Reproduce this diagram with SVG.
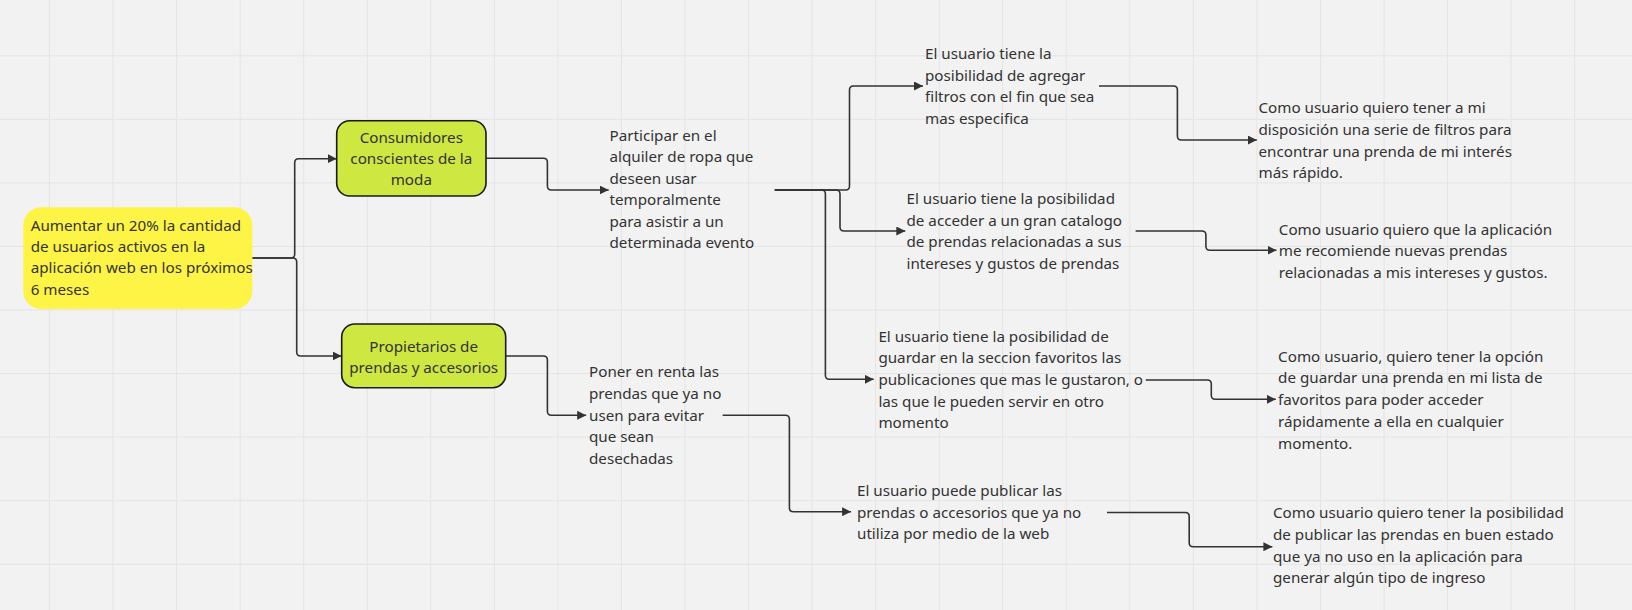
<svg xmlns="http://www.w3.org/2000/svg" width="1632" height="610" viewBox="0 0 1632 610">
<defs>
<style>
.t{font-family:"Noto Sans","Open Sans","DejaVu Sans",sans-serif;font-size:15.2px;fill:#333333}
.c{text-anchor:middle}
.g{stroke:#e4e4e4;stroke-width:1}
.ln{fill:none;stroke:#333333;stroke-width:1.6;marker-end:url(#ar)}
.nd{fill:#cee741;stroke:#1a1a1a;stroke-width:1.6}
</style>
<marker id="ar" viewBox="0 0 10 10" refX="10" refY="5" markerWidth="9" markerHeight="9" markerUnits="userSpaceOnUse" orient="auto">
<path d="M0,0 L10,5 L0,10 z" fill="#333333"/>
</marker>
<pattern id="grid" x="49" y="55.3" width="63.55" height="63.55" patternUnits="userSpaceOnUse">
<path d="M0.5,0 V63.55 M0,0.5 H63.55" class="g" fill="none"/>
</pattern>
</defs>
<rect width="1632" height="610" fill="#f2f2f2"/>
<rect width="1632" height="610" fill="url(#grid)"/>

<g id="connectors">
<path class="ln" d="M252.3,258 H290.7 Q294.7,258 294.7,254 V162.7 Q294.7,158.7 298.7,158.7 H336.7"/>
<path class="ln" d="M252.3,258 H292.7 Q296.7,258 296.7,262 V352 Q296.7,356 300.7,356 H341.7"/>
<path class="ln" d="M486,158.3 H543.4 Q547.4,158.3 547.4,162.3 V186 Q547.4,190 551.4,190 H608.7"/>
<path class="ln" d="M774.8,190 H845.5 Q849.5,190 849.5,186 V90 Q849.5,86 853.5,86 H923"/>
<path class="ln" d="M774.8,190 H836 Q840,190 840,194 V227 Q840,231 844,231 H905.3"/>
<path class="ln" d="M774.8,190 H821.4 Q825.4,190 825.4,194 V375.3 Q825.4,379.3 829.4,379.3 H873.7"/>
<path class="ln" d="M1099,86 H1173.4 Q1177.4,86 1177.4,90 V136 Q1177.4,140 1181.4,140 H1256.8"/>
<path class="ln" d="M1135.6,231 H1201.9 Q1205.9,231 1205.9,235 V246.3 Q1205.9,250.3 1209.9,250.3 H1276.5"/>
<path class="ln" d="M1145.8,380 H1207.3 Q1211.3,380 1211.3,384 V395.3 Q1211.3,399.3 1215.3,399.3 H1275.8"/>
<path class="ln" d="M505.7,356 H543.4 Q547.4,356 547.4,360 V411.3 Q547.4,415.3 551.4,415.3 H586.2"/>
<path class="ln" d="M722.6,415.3 H785.4 Q789.4,415.3 789.4,419.3 V507.7 Q789.4,511.7 793.4,511.7 H851.1"/>
<path class="ln" d="M1107,512.5 H1185.2 Q1189.2,512.5 1189.2,516.5 V542.7 Q1189.2,546.7 1193.2,546.7 H1272.4"/>
</g>

<g id="goal">
<rect x="23.3" y="207.3" width="229" height="101.7" rx="18" fill="#fef445"/>
<text class="t" x="30.7" y="230.7">Aumentar un 20% la cantidad</text>
<text class="t" x="30.7" y="252">de usuarios activos en la</text>
<text class="t" x="30.7" y="273.3">aplicación web en los próximos</text>
<text class="t" x="30.7" y="294.7">6 meses</text>
</g>

<g id="consumidores">
<rect class="nd" x="336.7" y="120.7" width="149.3" height="75.3" rx="13"/>
<text class="t c" x="411.3" y="143.3">Consumidores</text>
<text class="t c" x="411.3" y="164.3">conscientes de la</text>
<text class="t c" x="411.3" y="185.3">moda</text>
</g>

<g id="propietarios">
<rect class="nd" x="341.7" y="324" width="164" height="63.7" rx="13"/>
<text class="t c" x="423.7" y="351.7">Propietarios de</text>
<text class="t c" x="423.7" y="373.3">prendas y accesorios</text>
</g>

<g id="participar">
<text class="t" x="609.5" y="141">Participar en el</text>
<text class="t" x="609.5" y="162.4">alquiler de ropa que</text>
<text class="t" x="609.5" y="183.8">deseen usar</text>
<text class="t" x="609.5" y="205.2">temporalmente</text>
<text class="t" x="609.5" y="226.6">para asistir a un</text>
<text class="t" x="609.5" y="248">determinada evento</text>
</g>

<g id="poner">
<text class="t" x="589" y="377.3">Poner en renta las</text>
<text class="t" x="589" y="398.9">prendas que ya no</text>
<text class="t" x="589" y="420.5">usen para evitar</text>
<text class="t" x="589" y="442.1">que sean</text>
<text class="t" x="589" y="463.7">desechadas</text>
</g>

<g id="filtros">
<text class="t" x="925" y="59.3">El usuario tiene la</text>
<text class="t" x="925" y="80.8">posibilidad de agregar</text>
<text class="t" x="925" y="102.3">filtros con el fin que sea</text>
<text class="t" x="925" y="123.8">mas especifica</text>
</g>

<g id="catalogo">
<text class="t" x="906.5" y="204">El usuario tiene la posibilidad</text>
<text class="t" x="906.5" y="225.5">de acceder a un gran catalogo</text>
<text class="t" x="906.5" y="247">de prendas relacionadas a sus</text>
<text class="t" x="906.5" y="268.5">intereses y gustos de prendas</text>
</g>

<g id="favoritos">
<text class="t" x="878.4" y="341.7">El usuario tiene la posibilidad de</text>
<text class="t" x="878.4" y="363.3">guardar en la seccion favoritos las</text>
<text class="t" x="878.4" y="384.9">publicaciones que mas le gustaron, o</text>
<text class="t" x="878.4" y="406.5">las que le pueden servir en otro</text>
<text class="t" x="878.4" y="428.1">momento</text>
</g>

<g id="publicar">
<text class="t" x="857" y="496">El usuario puede publicar las</text>
<text class="t" x="857" y="517.6">prendas o accesorios que ya no</text>
<text class="t" x="857" y="539.2">utiliza por medio de la web</text>
</g>

<g id="historia1">
<text class="t" x="1258.5" y="113.3">Como usuario quiero tener a mi</text>
<text class="t" x="1258.5" y="135">disposición una serie de filtros para</text>
<text class="t" x="1258.5" y="156.7">encontrar una prenda de mi interés</text>
<text class="t" x="1258.5" y="178.4">más rápido.</text>
</g>

<g id="historia2">
<text class="t" x="1278.8" y="234.5">Como usuario quiero que la aplicación</text>
<text class="t" x="1278.8" y="256.2">me recomiende nuevas prendas</text>
<text class="t" x="1278.8" y="277.9">relacionadas a mis intereses y gustos.</text>
</g>

<g id="historia3">
<text class="t" x="1278.1" y="361.7">Como usuario, quiero tener la opción</text>
<text class="t" x="1278.1" y="383.4">de guardar una prenda en mi lista de</text>
<text class="t" x="1278.1" y="405.1">favoritos para poder acceder</text>
<text class="t" x="1278.1" y="426.8">rápidamente a ella en cualquier</text>
<text class="t" x="1278.1" y="448.5">momento.</text>
</g>

<g id="historia4">
<text class="t" x="1273" y="518.3">Como usuario quiero tener la posibilidad</text>
<text class="t" x="1273" y="540">de publicar las prendas en buen estado</text>
<text class="t" x="1273" y="561.7">que ya no uso en la aplicación para</text>
<text class="t" x="1273" y="583.4">generar algún tipo de ingreso</text>
</g>
</svg>
